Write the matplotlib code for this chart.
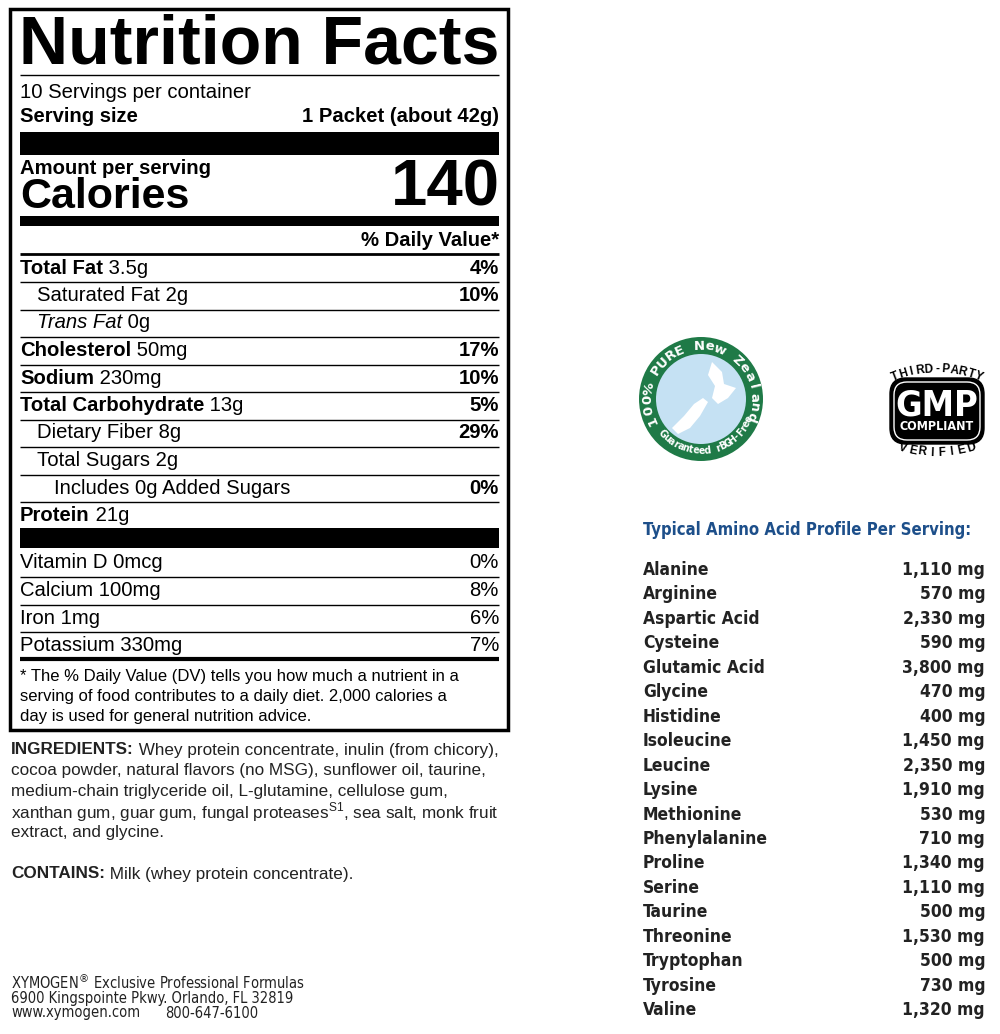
import numpy as np
import matplotlib
matplotlib.use("Agg")
import matplotlib.pyplot as plt
from matplotlib.patches import Rectangle, Circle, FancyBboxPatch, Polygon

plt.rcParams['font.family'] = ['Liberation Sans', 'DejaVu Sans']

# nutrient rows: (label, amount, percent, indent, bold label)
nutrients = [
    ("Total Fat", " 3.5g", "4%", 0, True),
    ("Saturated Fat", " 2g", "10%", 1, False),
    ("Trans Fat", " 0g", "", 1, False),
    ("Cholesterol", " 50mg", "17%", 0, True),
    ("Sodium", " 230mg", "10%", 0, True),
    ("Total Carbohydrate", " 13g", "5%", 0, True),
    ("Dietary Fiber", " 8g", "29%", 1, False),
    ("Total Sugars", " 2g", "", 1, False),
    ("Includes 0g Added Sugars", "", "0%", 2, False),
    ("Protein", " 21g", "", 0, True),
]
vitamins = ["Vitamin D 0mcg", "Calcium 100mg", "Iron 1mg", "Potassium 330mg"]
vitamin_dv = ["0%", "8%", "6%", "7%"]

amino_names = ["Alanine", "Arginine", "Aspartic Acid", "Cysteine", "Glutamic Acid",
               "Glycine", "Histidine", "Isoleucine", "Leucine", "Lysine", "Methionine",
               "Phenylalanine", "Proline", "Serine", "Taurine", "Threonine",
               "Tryptophan", "Tyrosine", "Valine"]
amino_mg = [1110, 570, 2330, 590, 3800, 470, 400, 1450, 2350, 1910, 530,
            710, 1340, 1110, 500, 1530, 500, 730, 1320]

ingredients = [
    "Whey protein concentrate, inulin (from chicory),",
    "cocoa powder, natural flavors (no MSG), sunflower oil, taurine,",
    "medium-chain triglyceride oil, L-glutamine, cellulose gum,",
    "xanthan gum, guar gum, fungal proteases$^{\\mathregular{S1}}$, sea salt, monk fruit",
    "extract, and glycine.",
]

fig = plt.figure(figsize=(10, 10.34), dpi=100)
ax = fig.add_axes([0, 0, 1, 1])
ax.set_xlim(0, 1000)
ax.set_ylim(1034, 0)
ax.axis('off')

L, R = 20, 499
ax.add_patch(Rectangle((10, 9), 498, 721, fill=False, lw=2.5, ec='black'))

def hline(y, lw=1, x0=L, x1=R):
    ax.plot([x0, x1], [y, y], color='black', lw=lw, solid_capstyle='butt')

def bar(y0, y1):
    ax.add_patch(Rectangle((L, y0), R - L, y1 - y0, color='black', lw=0))

FS = 14.6
ax.text(L - 1, 45, "Nutrition Facts", fontsize=49, weight='heavy', va='center')
hline(75)
ax.text(L, 92, "10 Servings per container", fontsize=FS, va='center')
ax.text(L, 117, "Serving size", fontsize=FS, weight='bold', va='center')
ax.text(R, 117, "1 Packet (about 42g)", fontsize=FS, weight='bold', va='center', ha='right')
bar(132, 155)
ax.text(L, 169, "Amount per serving", fontsize=FS, weight='bold', va='center')
ax.text(L, 197, "Calories", fontsize=31, weight='bold', va='center')
ax.text(R + 1, 189, "140", fontsize=47, weight='bold', va='center', ha='right')
bar(216, 226)
ax.text(R, 240, "% Daily Value*", fontsize=FS, weight='bold', va='center', ha='right')
hline(254, 2)

y = 268
for i, (lab, amt, dv, ind, b) in enumerate(nutrients):
    x = L + ind * 17
    style = 'italic' if lab == "Trans Fat" else 'normal'
    t = ax.text(x, y, lab, fontsize=FS, weight='bold' if b else 'normal',
                style=style, va='center')
    if amt:
        ax.annotate(amt, xy=(1, 0.5), xycoords=t, fontsize=FS, va='center')
    if dv:
        ax.text(R, y, dv, fontsize=FS, weight='bold', va='center', ha='right')
    if i < len(nutrients) - 1:
        hline(y + 14)
    y += 27.5

bar(528, 548)
y = 563
for i, (v, d) in enumerate(zip(vitamins, vitamin_dv)):
    ax.text(L, y, v, fontsize=FS, va='center')
    ax.text(R, y, d, fontsize=FS, va='center', ha='right')
    if i < len(vitamins) - 1:
        hline(y + 14)
    y += 27.5
hline(659, 3)
for j, s in enumerate(["* The % Daily Value (DV) tells you how much a nutrient in a",
                       "serving of food contributes to a daily diet. 2,000 calories a",
                       "day is used for general nutrition advice."]):
    ax.text(L, 677 + j * 20, s, fontsize=12, va='center')

# ingredients
IS = 12.3
t = ax.text(11, 750, "INGREDIENTS:", fontsize=IS, weight='bold', va='center', color='#222')
ax.annotate(" " + ingredients[0], xy=(1, 0.5), xycoords=t, fontsize=IS, va='center', color='#222')
for j, s in enumerate(ingredients[1:]):
    ax.text(11, 771 + j * 20.5, s, fontsize=IS, va='center', color='#222')
t = ax.text(11, 874, "CONTAINS:", fontsize=IS, weight='bold', va='center', color='#222')
ax.annotate(" Milk (whey protein concentrate).", xy=(1, 0.5), xycoords=t,
            fontsize=IS, va='center', color='#222')

cond = dict(family='DejaVu Sans', stretch='condensed')
ax.text(11, 982, "XYMOGEN$^{\\circledR}$ Exclusive Professional Formulas", **cond,
        fontsize=10.5, va='center', color='#222')
ax.text(11, 998, "6900 Kingspointe Pkwy. Orlando, FL 32819", **cond,
        fontsize=10.5, va='center', color='#222')
ax.text(11, 1013, "www.xymogen.com", **cond, fontsize=10.5, va='center', color='#222')
ax.text(165, 1013, "800-647-6100", **cond, fontsize=10.5, va='center', color='#222')

# amino acid table
ax.text(643, 530, "Typical Amino Acid Profile Per Serving:", **cond, weight='bold',
        fontsize=12, va='center', color='#1d4f8a')
for i, (n, v) in enumerate(zip(amino_names, amino_mg)):
    yy = 570 + i * 24.45
    ax.text(643, yy, n, **cond, weight='bold', fontsize=12.5, va='center', color='#222')
    ax.text(985, yy, f"{v:,} mg", **cond, weight='bold', fontsize=12.5,
            va='center', ha='right', color='#222')

def arc_text(s, cx, cy, r, t0, t1, top, **kw):
    ts = np.linspace(t0, t1, len(s))
    for ch, tt in zip(s, ts):
        rad = np.radians(tt)
        x, y = cx + r * np.cos(rad), cy - r * np.sin(rad)
        rot = tt - 90 if top else tt + 90
        ax.text(x, y, ch, rotation=rot, ha='center', va='center',
                rotation_mode='anchor', **kw)

# NZ badge
cx, cy = 701, 399
ax.add_patch(Circle((cx, cy), 62, color='#1f7a47', lw=0))
ax.add_patch(Circle((cx, cy), 45, color='#c5e1f3', lw=0))
ax.add_patch(Polygon([(712, 362), (722, 372), (724, 384), (736, 388), (728, 398),
                      (718, 404), (712, 398), (715, 386), (708, 375)],
                     color='white', lw=0))
ax.add_patch(Polygon([(703, 398), (708, 402), (700, 416), (690, 428), (678, 434),
                      (672, 428), (684, 416), (694, 404)], color='white', lw=0))
arc_text("100% PURE New Zealand", cx, cy, 53, 203, -20, True,
         fontsize=9.5, weight='bold', color='white', family='DejaVu Sans')
arc_text("Guaranteed rBGH-Free", cx, cy, 52, 222, 338, False,
         fontsize=7.5, weight='bold', color='white', **cond)

# GMP badge
gx, gy = 937, 411
ax.add_patch(FancyBboxPatch((gx - 47, gy - 33), 94, 66,
                            boxstyle="round,pad=0,rounding_size=16", color='black'))
ax.add_patch(FancyBboxPatch((gx - 43, gy - 29), 86, 58,
                            boxstyle="round,pad=0,rounding_size=13", fill=False,
                            ec='white', lw=1))
ax.text(gx, gy - 6, "GMP", **cond, weight='bold', fontsize=26, color='white',
        ha='center', va='center')
ax.text(gx, gy + 16, "COMPLIANT", **cond, weight='bold', fontsize=9,
        color='white', ha='center', va='center')
arc_text("THIRD-PARTY", gx, gy + 75, 117, 111, 69, True, fontsize=8.5, weight='heavy')
arc_text("VERIFIED", gx, gy - 75, 117, 253, 287, False, fontsize=8.5, weight='heavy')

fig.savefig("out.png", dpi=100)
